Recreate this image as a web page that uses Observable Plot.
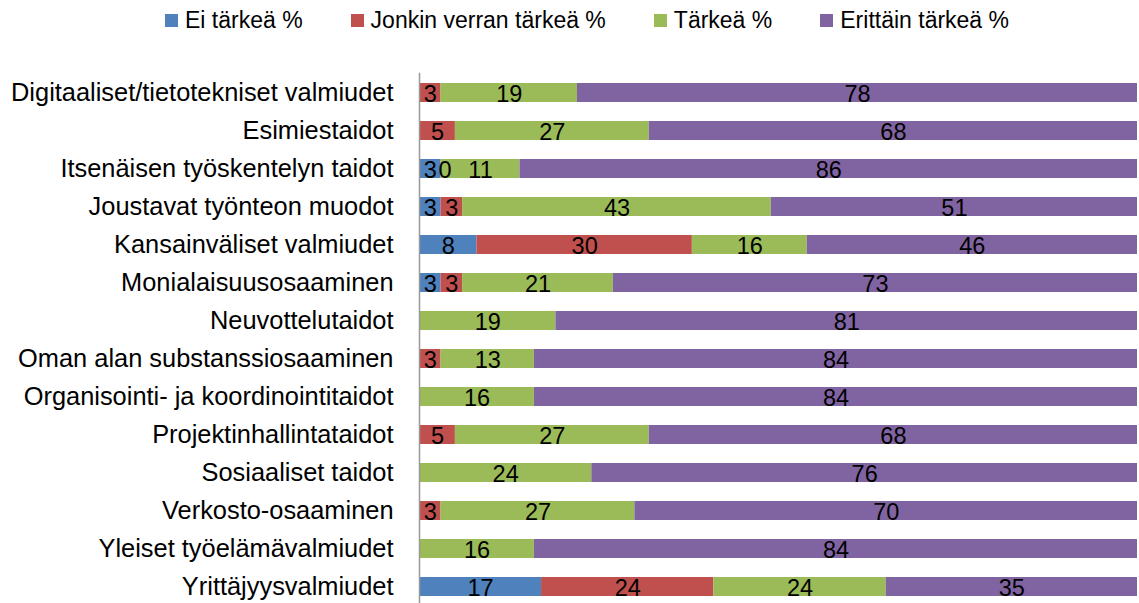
<!DOCTYPE html>
<html><head><meta charset="utf-8">
<script src="https://cdn.jsdelivr.net/npm/d3@7"></script>
<script src="https://cdn.jsdelivr.net/npm/@observablehq/plot@0.6"></script>
<style>
html,body{margin:0;padding:0;background:#fff;overflow:hidden;width:1139px;height:603px;}
#legend{height:40px;display:flex;align-items:center;justify-content:center;padding-left:35px;box-sizing:border-box;font-family:"Liberation Sans",sans-serif;font-size:23px;color:#000;}
.item{display:flex;align-items:center;margin:0 24px;}
.sw{width:13px;height:13px;margin-right:7px;}
</style></head>
<body>
<div id="legend"></div>
<div id="chart"></div>
<script>
const categories = ["Digitaaliset/tietotekniset valmiudet","Esimiestaidot","Itsenäisen työskentelyn taidot","Joustavat työnteon muodot","Kansainväliset valmiudet","Monialaisuusosaaminen","Neuvottelutaidot","Oman alan substanssiosaaminen","Organisointi- ja koordinointitaidot","Projektinhallintataidot","Sosiaaliset taidot","Verkosto-osaaminen","Yleiset työelämävalmiudet","Yrittäjyysvalmiudet"];
const seriesNames = ["Ei tärkeä %","Jonkin verran tärkeä %","Tärkeä %","Erittäin tärkeä %"];
const seriesColors = ["#4F81BD","#C0504D","#9BBB59","#8064A2"];
const eiTarkea =      [null,null,3,3,8,3,null,null,null,null,null,null,null,17];
const jonkinVerran =  [3,5,0,3,30,3,null,3,null,5,null,3,null,24];
const tarkea =        [19,27,11,43,16,21,19,13,16,27,24,27,16,24];
const erittainTarkea = [78,68,86,51,46,73,81,84,84,68,76,70,84,35];

const seriesValues = [eiTarkea, jonkinVerran, tarkea, erittainTarkea];
const data = [];
seriesNames.forEach((s, si) => {
  categories.forEach((c, ci) => {
    const v = seriesValues[si][ci];
    if (v !== null) data.push({cat: c, series: s, value: v});
  });
});

const legend = document.getElementById("legend");
seriesNames.forEach((s, i) => {
  const it = document.createElement("div"); it.className = "item";
  const sw = document.createElement("div"); sw.className = "sw"; sw.style.background = seriesColors[i];
  const t = document.createElement("span"); t.textContent = s;
  it.appendChild(sw); it.appendChild(t); legend.appendChild(it);
});

const chart = Plot.plot({
  width: 1139,
  height: 568,
  marginLeft: 419,
  marginRight: 2,
  marginTop: 41.7,
  marginBottom: 10.7,
  style: {fontFamily: "Liberation Sans, sans-serif", fontSize: "25.4px", color: "#000", background: "#fff"},
  x: {domain: [0, 100], axis: null},
  y: {domain: categories, paddingInner: 0.489, paddingOuter: 0, label: null, tickSize: 0, tickPadding: 26},
  color: {domain: seriesNames, range: seriesColors},
  marks: [
    Plot.barX(data, Plot.stackX({x: "value", y: "cat", fill: "series", z: "series", order: seriesNames})),
    Plot.text(data, Plot.stackX({x: "value", y: "cat", z: "series", order: seriesNames, text: d => d.value === 0 ? null : String(d.value), fill: "#000", fontSize: 23.5, dy: 1})),
    Plot.text(data, Plot.stackX({x: "value", y: "cat", z: "series", order: seriesNames, text: d => d.value === 0 ? String(d.value) : null, fill: "#000", fontSize: 23.5, dy: 1, dx: 4})),
    Plot.ruleX([0], {stroke: "#999", strokeWidth: 1.5, insetTop: -9, insetBottom: -12})
  ]
});
document.getElementById("chart").appendChild(chart);
</script>
</body></html>
